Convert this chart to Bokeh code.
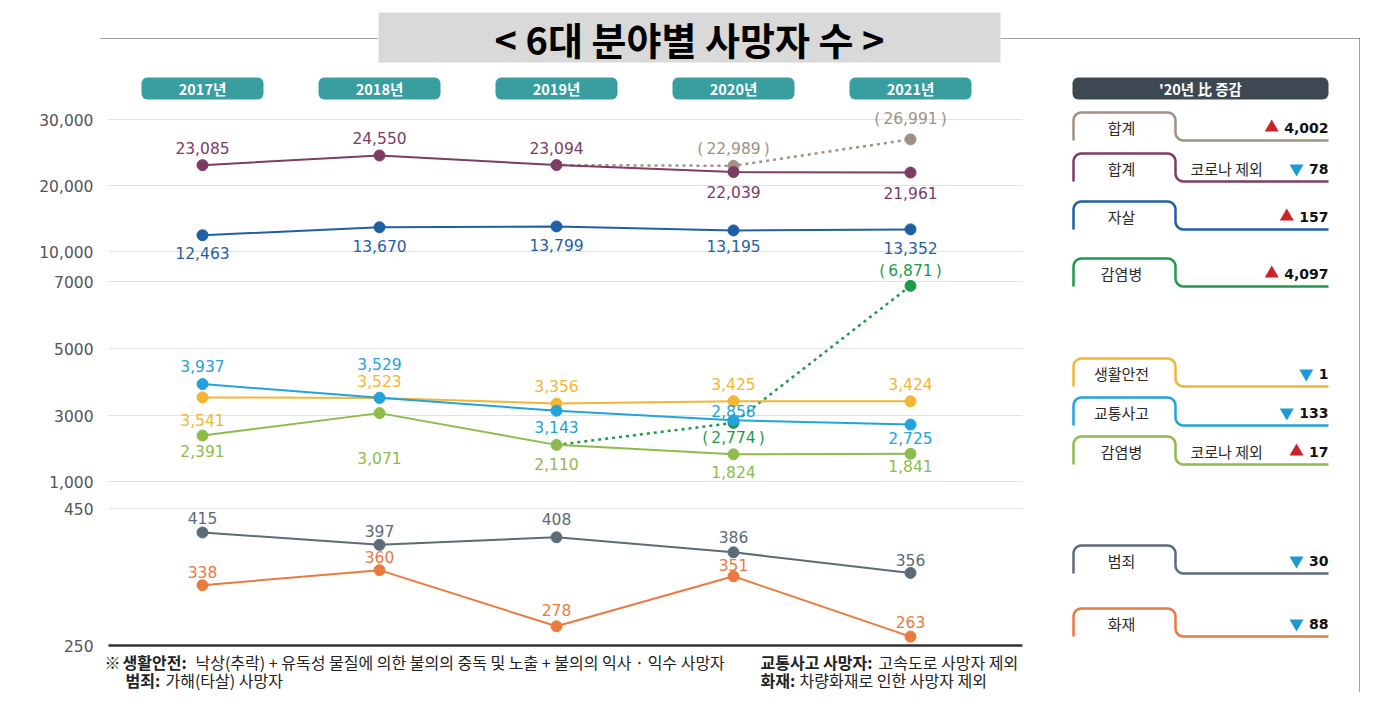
import numpy as np
from bokeh.plotting import figure
from bokeh.models import Range1d, FixedTicker, LinearAxis
from bokeh.core.properties import value
from bokeh.embed import file_html
from bokeh.resources import INLINE

# ---------------- data ----------------
years = [2017, 2018, 2019, 2020, 2021]
year_labels = ["2017년", "2018년", "2019년", "2020년", "2021년"]
total_excl_covid = [23085, 24550, 23094, 22039, 21961]
total_incl_years = [2019, 2020, 2021]
total_incl_covid = [23094, 22989, 26991]
suicide = [12463, 13670, 13799, 13195, 13352]
infect_incl_years = [2019, 2020, 2021]
infect_incl_covid = [2110, 2774, 6871]
safety = [3541, 3523, 3356, 3425, 3424]
traffic = [3937, 3529, 3143, 2858, 2725]
infect_excl_covid = [2391, 3071, 2110, 1824, 1841]
crime = [415, 397, 408, 386, 356]
fire = [338, 360, 278, 351, 263]

y_ticks = [250, 450, 1000, 3000, 5000, 7000, 10000, 20000, 30000]
y_tick_labels = ["250", "450", "1,000", "3000", "5000", "7000", "10,000", "20,000", "30,000"]

legend_names = ["합계", "합계", "자살", "감염병", "생활안전", "교통사고", "감염병", "범죄", "화재"]
legend_notes = ["", "코로나 제외", "", "", "", "", "코로나 제외", "", ""]
change_vs_2020 = [4002, -78, 157, 4097, -1, -133, 17, -30, -88]

title = "< 6대 분야별 사망자 수 >"
legend_title = "'20년 比 증감"

# ---------------- style / layout ----------------
C_GRAY = "#a09184"
C_PURPLE = "#7d3c63"
C_BLUE = "#1f5fa6"
C_GREEN = "#1f9a4c"
C_YELLOW = "#f2b534"
C_CYAN = "#23a3dc"
C_LGREEN = "#8dbb4c"
C_SLATE = "#5c6b78"
C_ORANGE = "#ea7a40"
legend_colors = [C_GRAY, C_PURPLE, C_BLUE, C_GREEN, C_YELLOW, C_CYAN, C_LGREEN, C_SLATE, C_ORANGE]
legend_tops = [112, 153, 201, 258, 358, 397, 436, 545, 608]

# broken (piecewise) value axis: screen row of each tick value
tick_px = [645, 508, 481, 415, 348, 281, 251, 185, 119]


def ypos(vals):
    return [float(np.interp(v, y_ticks, tick_px)) for v in vals]


NUM_FONT = value("DejaVu Sans")
KR_FONT = value("Noto Sans CJK KR")

p = figure(width=1360, height=692, x_range=Range1d(100, 1360), y_range=Range1d(692, 0),
           x_axis_type=None, y_axis_type=None, output_backend="svg", toolbar_location=None,
           min_border_left=100, min_border_right=0, min_border_top=0, min_border_bottom=0)
p.outline_line_color = None
p.background_fill_color = "white"
p.border_fill_color = "white"
# year scale: 2017 at x 202, 177 px per year
p.extra_x_ranges = {"yr": Range1d(2017 - 102 / 177, 2017 + 1158 / 177)}

yaxis = LinearAxis(ticker=FixedTicker(ticks=tick_px),
                   major_label_overrides={int(px): lab for px, lab in zip(tick_px, y_tick_labels)},
                   axis_line_color=None, major_tick_line_color=None, minor_tick_line_color=None,
                   major_tick_out=0, major_tick_in=0, major_label_standoff=7,
                   major_label_text_font="DejaVu Sans", major_label_text_font_size="15.5px",
                   major_label_text_color="#555555")
p.add_layout(yaxis, "left")

# grid lines + base line
gy = ypos(y_ticks[1:])
p.segment(x0=[108] * len(gy), x1=[1022] * len(gy), y0=gy, y1=gy, line_color="#e2e2e2", line_width=1)
by = ypos([y_ticks[0]])[0]
p.segment(x0=[108], x1=[1022], y0=[by], y1=[by], line_color="#333333", line_width=2.5)

# dotted frame
p.segment(x0=[100, 1000, 1359], x1=[378, 1359, 1359], y0=[38, 38, 38], y1=[38, 38, 692],
          line_color="#444444", line_dash="1 1", line_width=1)

# title
p.quad(left=[378], right=[1000], top=[12], bottom=[62], fill_color="#d9d9d9", line_color=None)
p.text(x=[689], y=[38], text=[title], text_font=KR_FONT, text_font_style="bold",
       text_font_size="38px", text_color="#000000", text_align="center", text_baseline="middle")


def rrect(x0, x1, y0, y1, rx, ry, n=8):
    xs, ys = [], []
    corners = [(x1 - rx, y0 + ry, -90, 0), (x1 - rx, y1 - ry, 0, 90),
               (x0 + rx, y1 - ry, 90, 180), (x0 + rx, y0 + ry, 180, 270)]
    for cx, cy, a0, a1 in corners:
        for a in np.linspace(np.radians(a0), np.radians(a1), n):
            xs.append(float(cx + rx * np.cos(a)))
            ys.append(float(cy + ry * np.sin(a)))
    return xs, ys


# year badges
bx, byy = [], []
for yr in years:
    xs, ys = rrect(yr - 61 / 177, yr + 61 / 177, 77, 99, 6 / 177, 6)
    bx.append(xs)
    byy.append(ys)
p.patches(bx, byy, fill_color="#389e9f", line_color=None, x_range_name="yr")
p.text(x=years, y=[88] * 5, text=year_labels, x_range_name="yr", text_font=KR_FONT,
       text_font_style="bold", text_font_size="14.5px", text_color="white",
       text_align="center", text_baseline="middle")


# series
def series(yrs, vals, color, offs, dash=None, dot_idx=None, label_idx=None, paren=False):
    ys = ypos(vals)
    p.line(yrs, ys, x_range_name="yr", line_color=color,
           line_width=2.5 if dash else 2, line_dash=dash if dash else "solid")
    di = list(range(len(yrs))) if dot_idx is None else dot_idx
    p.scatter([yrs[i] for i in di], [ys[i] for i in di], size=11, fill_color=color,
              line_color=color, x_range_name="yr")
    li = list(range(len(yrs))) if label_idx is None else label_idx
    if paren:
        texts = ["(\u2009{:,}\u2009)".format(vals[i]) for i in li]
    else:
        texts = ["{:,}".format(vals[i]) for i in li]
    p.text(x=[yrs[i] for i in li], y=[ys[i] + o for i, o in zip(li, offs)], text=texts,
           x_range_name="yr", text_font=NUM_FONT, text_font_size="15.5px", text_color=color,
           text_align="center", text_baseline="middle")


series(total_incl_years, total_incl_covid, C_GRAY, [-17, -20], dash="3 4", dot_idx=[1, 2], label_idx=[1, 2], paren=True)
series(years, total_excl_covid, C_PURPLE, [-17, -17, -17, 20, 20])
series(years, suicide, C_BLUE, [18, 19, 19, 16, 19])
series(infect_incl_years, infect_incl_covid, C_GREEN, [15, -15], dash="3 4", dot_idx=[1, 2], label_idx=[1, 2], paren=True)
series(years, safety, C_YELLOW, [23, -17, -18, -17, -17])
series(years, traffic, C_CYAN, [-18, -34, 16, -9, 13])
series(years, infect_excl_covid, C_LGREEN, [15, 45, 19, 18, 12])
series(years, crime, C_SLATE, [-14, -14, -18, -15, -13])
series(years, fire, C_ORANGE, [-13, -13, -16, -11, -15])

# legend header
hx, hy = rrect(1072, 1328, 77, 99, 6, 6)
p.patch(hx, hy, fill_color="#3d4852", line_color=None)
p.text(x=[1200], y=[88], text=[legend_title], text_font=KR_FONT, text_font_style="bold",
       text_font_size="14.5px", text_color="white", text_align="center", text_baseline="middle")

# legend tabs
L, S, R, r, H = 1073, 1175, 1328, 8, 28


def tab(t):
    b = t + H
    xs, ys = [L], [b]
    for a in np.linspace(np.pi, 1.5 * np.pi, 8):
        xs.append(float(L + r + r * np.cos(a)))
        ys.append(float(t + r + r * np.sin(a)))
    for a in np.linspace(-0.5 * np.pi, 0, 8):
        xs.append(float(S - r + r * np.cos(a)))
        ys.append(float(t + r + r * np.sin(a)))
    for a in np.linspace(np.pi, 0.5 * np.pi, 8):
        xs.append(float(S + r + r * np.cos(a)))
        ys.append(float(b - r + r * np.sin(a)))
    xs.append(R)
    ys.append(b)
    return xs, ys


txs, tys = [], []
for t in legend_tops:
    xs, ys = tab(t)
    txs.append(xs)
    tys.append(ys)
p.multi_line(txs, tys, line_color=legend_colors, line_width=2.5)

ty = [t + 15 for t in legend_tops]
p.text(x=[1121] * len(ty), y=ty, text=legend_names, text_font=KR_FONT, text_font_size="15px",
       text_color="#2a2a2a", text_align="center", text_baseline="middle")
note_idx = [i for i, n in enumerate(legend_notes) if n]
p.text(x=[1190] * len(note_idx), y=[ty[i] for i in note_idx], text=[legend_notes[i] for i in note_idx],
       text_font=KR_FONT, text_font_size="15px", text_color="#2a2a2a", text_align="left",
       text_baseline="middle")
vals_txt = ["{:,}".format(abs(v)) for v in change_vs_2020]
p.text(x=[R] * len(ty), y=ty, text=vals_txt, text_font=NUM_FONT, text_font_style="bold",
       text_font_size="14px", text_color="#111111", text_align="right", text_baseline="middle")


def txt_w(s):
    return sum(5.3 if c == "," else 9.74 for c in s)


up_x = [R - txt_w(s) - 12.5 for s, v in zip(vals_txt, change_vs_2020) if v > 0]
up_y = [y for y, v in zip(ty, change_vs_2020) if v > 0]
dn_x = [R - txt_w(s) - 12.5 for s, v in zip(vals_txt, change_vs_2020) if v < 0]
dn_y = [y for y, v in zip(ty, change_vs_2020) if v < 0]
p.scatter(up_x, up_y, marker="triangle", size=14, fill_color="#cc2229", line_color=None)
p.scatter(dn_x, dn_y, marker="inverted_triangle", size=14, fill_color="#1b9ad6", line_color=None)

# footnotes
FN = dict(text_font=KR_FONT, text_font_size="16px", text_color="#222222", text_align="left",
          text_baseline="middle")
p.text(x=[104], y=[661], text=["※"], **FN)
p.text(x=[122, 125, 760, 760], y=[661, 679, 661, 679],
       text=["생활안전:", "범죄:", "교통사고 사망자:", "화재:"], text_font_style="bold", **FN)
p.text(x=[195, 165, 878, 799], y=[661, 679, 661, 679],
       text=["낙상(추락) + 유독성 물질에 의한 불의의 중독 및 노출 + 불의의 익사 · 익수 사망자",
             "가해(타살) 사망자", "고속도로 사망자 제외", "차량화재로 인한 사망자 제외"], **FN)

open("out.html", "w").write(file_html(p, INLINE))
